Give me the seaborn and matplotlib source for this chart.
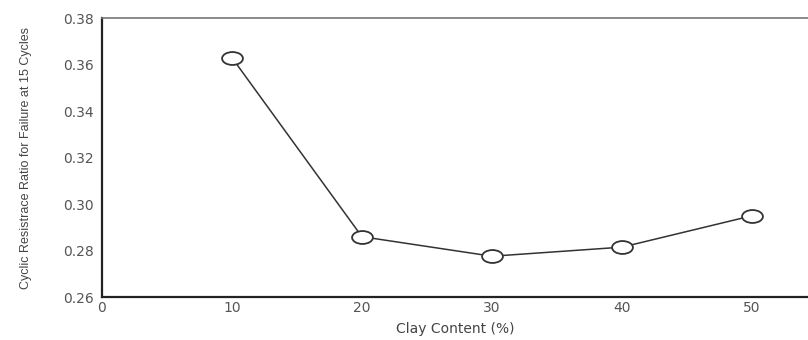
import pandas as pd
import matplotlib.pyplot as plt
import seaborn as sns
from matplotlib.path import Path
from matplotlib.transforms import Affine2D
from matplotlib.ticker import MultipleLocator

# Data
clay_content = [10, 20, 30, 40, 50]
crr_15 = [0.363, 0.286, 0.2776, 0.2815, 0.295]

df = pd.DataFrame({'clay': clay_content, 'crr': crr_15})

sns.set_style('white')
plt.rcParams['font.family'] = ['DejaVu Sans']

fig = plt.figure(figsize=(8.08, 3.4), dpi=100)
ax = fig.add_axes([0.126, 0.126, 0.874, 0.821])

# slightly flattened circle marker, like the original
ellipse = Path.unit_circle().transformed(Affine2D().scale(1.0, 0.62))

sns.lineplot(data=df, x='clay', y='crr', ax=ax, color='#333333', linewidth=1.1,
             marker=ellipse, markersize=15, markerfacecolor='white',
             markeredgecolor='#333333', markeredgewidth=1.3)

ax.set_xlim(0, 54.3)
ax.set_ylim(0.26, 0.38)
ax.xaxis.set_major_locator(MultipleLocator(10))
ax.xaxis.set_minor_locator(MultipleLocator(5))
ax.yaxis.set_major_locator(MultipleLocator(0.02))
ax.yaxis.set_minor_locator(MultipleLocator(0.01))
ax.yaxis.set_major_formatter(plt.FormatStrFormatter('%.2f'))

ax.tick_params(which='major', direction='in', length=4, width=1.5, color='black',
               labelsize=10, labelcolor='#555555')
ax.tick_params(which='minor', direction='in', length=2.5, width=1, color='#333333')
ax.tick_params(axis='x', pad=3)
ax.tick_params(axis='y', pad=6)

for side in ['left', 'bottom']:
    ax.spines[side].set_linewidth(1.6)
    ax.spines[side].set_color('#222222')
ax.spines['top'].set_linewidth(1.2)
ax.spines['top'].set_color('#777777')
ax.spines['right'].set_visible(False)

ax.set_xlabel('Clay Content (%)', fontsize=10, color='#444444', labelpad=5)
ax.set_ylabel('Cyclic Resistrace Ratio for Failure at 15 Cycles', fontsize=9,
              color='#444444', labelpad=22,
              family=['Liberation Sans Narrow', 'Liberation Sans', 'DejaVu Sans'])

plt.savefig('out.png', dpi=100)
plt.close()
